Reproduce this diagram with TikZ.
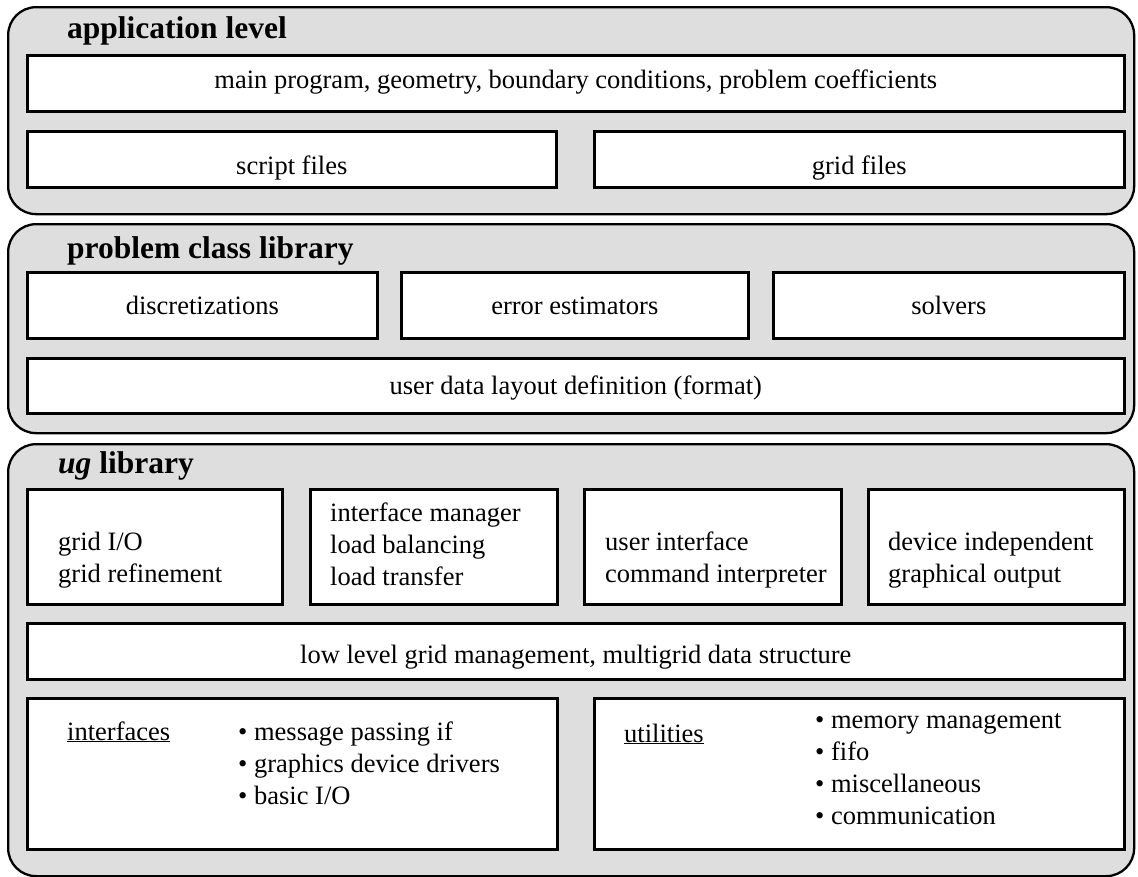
\documentclass[tikz,border=0pt]{standalone}
\usepackage{fontspec}
\setmainfont{Liberation Serif}
\definecolor{layergray}{RGB}{222,222,222}
\tikzset{
  layer/.style={draw, fill=layergray, line width=2.3pt, rounded corners=28pt,
    anchor=north west, inner sep=0pt},
  box/.style={draw, fill=white, line width=2.6pt, anchor=north west, inner sep=0pt,
    text height=20pt, text depth=2pt},
  title/.style={anchor=base west, inner sep=0pt, font=\fontsize{31.5}{36}\selectfont\bfseries},
  txt/.style={anchor=base west, inner sep=0pt, align=left},
}
\begin{document}
\begin{tikzpicture}[x=1pt, y=-1pt, font=\fontsize{26.5}{32}\selectfont]
    \useasboundingbox (0,0) rectangle (1138,876);
    %% application level
    \node[layer, minimum width=1126, minimum height=207] (app) at (7,6) {};
    \node[title] (apptitle) at (67,38) {application level};
    \node[box, minimum width=1097, minimum height=56, text depth=10pt] (mainprog) at (26,54)
        {main program, geometry, boundary conditions, problem coefficients};
    \node[box, minimum width=529, minimum height=56, text height=30pt, text depth=0pt]
        (script) at (26,130) {script files};
    \node[box, minimum width=530, minimum height=56, text height=30pt, text depth=0pt]
        (gridfiles) at (593,130) {grid files};
    %% problem class library
    \node[layer, minimum width=1126, minimum height=209] (pcl) at (7,223) {};
    \node[title] (pcltitle) at (67,258) {problem class library};
    \node[box, minimum width=350, minimum height=66] (discr) at (26,271) {discretizations};
    \node[box, minimum width=347, minimum height=66] (errest) at (400,271) {error estimators};
    \node[box, minimum width=351, minimum height=66] (solvers) at (772,271) {solvers};
    \node[box, minimum width=1097, minimum height=55] (format) at (26,357)
        {user data layout definition (format)};
    %% ug library
    \node[layer, minimum width=1126, minimum height=432] (ug) at (7,443) {};
    \node[title] (ugtitle) at (58,473) {\textit{ug} library};
    \node[box, minimum width=255, minimum height=115] (gridio) at (26,488) {};
    \node[box, minimum width=247, minimum height=115] (loadbal) at (309,488) {};
    \node[box, minimum width=257, minimum height=115] (ui) at (583,488) {};
    \node[box, minimum width=256, minimum height=115] (graph) at (867,488) {};
    \node[txt] (gridiotxt) at (58,582) {grid I/O\\grid refinement};
    \node[txt] (loadbaltxt) at (330,585) {interface manager\\load balancing\\load transfer};
    \node[txt] (uitxt) at (605,582) {user interface\\command interpreter};
    \node[txt] (graphtxt) at (888,582) {device independent\\graphical output};
    \node[box, minimum width=1097, minimum height=56, text height=24pt, text depth=0pt]
        (lowlevel) at (26,622) {low level grid management, multigrid data structure};
    %% interfaces and utilities
    \node[box, minimum width=530, minimum height=151] (ifbox) at (26,697) {};
    \node[box, minimum width=530, minimum height=151] (utilbox) at (593,697) {};
    \node[txt] (iflabel) at (67,740) {\underline{interfaces}};
    \node[txt] (iflist) at (238,804)
        {\textbullet{} message passing if\\\textbullet{} graphics device drivers\\\textbullet{} basic I/O};
    \node[txt] (utillabel) at (624,742) {\underline{utilities}};
    \node[txt] (utillist) at (815,824)
        {\textbullet{} memory management\\\textbullet{} fifo\\\textbullet{} miscellaneous\\\textbullet{} communication};
\end{tikzpicture}
\end{document}
